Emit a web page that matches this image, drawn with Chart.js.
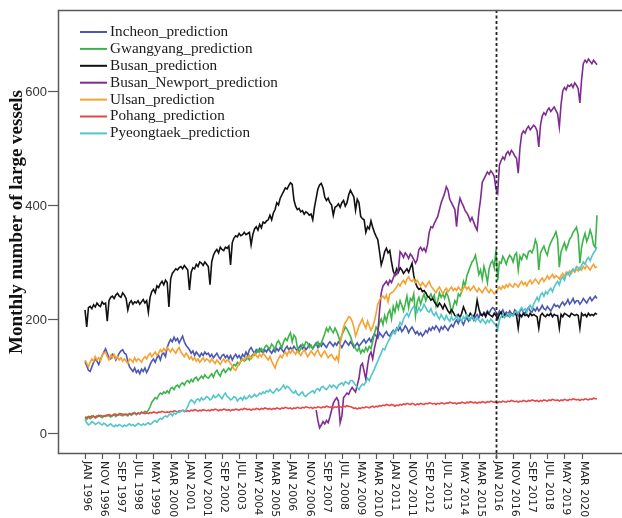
<!DOCTYPE html>
<html>
<head>
<meta charset="utf-8">
<script src="https://cdn.jsdelivr.net/npm/chart.js@4.4.1/dist/chart.umd.min.js"></script>
<style>
  html, body { margin: 0; padding: 0; background: #fff; }
  #wrap { width: 622px; height: 518px; position: relative; }
</style>
</head>
<body>
<div id="wrap"><canvas id="c" width="622" height="518"></canvas></div>
<script>
// Monthly series, JAN 1996 (index 0) to DEC 2020 (index 299)
const tickLabels = [
  'JAN 1996','NOV 1996','SEP 1997','JUL 1998','MAY 1999','MAR 2000','JAN 2001','NOV 2001',
  'SEP 2002','JUL 2003','MAY 2004','MAR 2005','JAN 2006','NOV 2006','SEP 2007','JUL 2008',
  'MAY 2009','MAR 2010','JAN 2011','NOV 2011','SEP 2012','JUL 2013','MAY 2014','MAR 2015',
  'JAN 2016','NOV 2016','SEP 2017','JUL 2018','MAY 2019','MAR 2020'
];
const tickStep = 10;          // months between x ticks
const yTicks = [0, 200, 400, 600];
const forecastStart = 240;    // JAN 2016
const yTitle = 'Monthly number of large vessels';

const seriesNames = ['Incheon_prediction','Gwangyang_prediction','Busan_prediction',
  'Busan_Newport_prediction','Ulsan_prediction','Pohang_prediction','Pyeongtaek_prediction'];
const seriesColors = ['#4a58b4','#3cb44a','#111111','#7e2c92','#f4a232','#e8474a','#52c6c9'];

const incheon = [
  125,118,110,108,116,124,130,126,120,128,136,142,
  148,140,132,130,138,136,128,134,140,144,146,140,
  138,126,116,112,108,114,106,110,104,112,108,114,
  106,112,120,126,130,124,132,136,128,138,140,134,
  150,158,164,160,168,162,166,158,164,170,160,154,
  150,146,140,144,136,142,138,134,140,136,142,138,
  140,134,138,132,136,140,134,130,136,138,132,136,
  130,136,128,134,138,132,136,130,138,134,142,136,
  146,150,144,140,146,142,148,144,140,146,142,148,
  144,140,146,142,148,144,150,146,142,148,152,146,
  150,146,152,148,144,150,154,148,152,146,150,156,
  152,148,154,158,150,156,152,158,154,150,156,160,
  156,152,158,154,160,156,150,156,162,158,154,160,
  156,150,154,158,152,156,160,164,158,162,166,160,
  168,174,170,166,176,172,168,174,178,172,170,176,
  180,176,184,180,186,178,182,188,184,176,182,186,
  180,174,178,172,176,170,174,180,176,184,180,186,
  182,188,184,178,186,182,188,184,180,186,190,186,
  194,198,192,200,196,190,198,202,196,200,204,198,
  204,208,202,210,206,212,208,214,210,216,220,218,
  212,206,214,210,216,208,212,206,214,210,208,216,
  212,206,214,218,212,210,216,220,214,212,218,214,
  220,214,218,224,218,216,222,218,214,220,226,222,
  224,220,226,230,224,228,234,226,230,236,228,232,
  232,226,230,236,232,228,234,238,232,236,240,236
];

const gwangyang = [
  26,24,28,25,27,30,26,28,31,29,27,30,
  29,32,30,28,31,33,29,32,34,31,30,33,
  32,30,34,31,33,36,32,35,33,37,35,38,
  36,40,46,54,58,62,60,66,70,68,72,70,
  74,70,78,80,76,82,84,80,86,88,84,90,
  92,88,94,90,96,98,92,96,100,96,102,98,
  96,100,104,98,106,110,104,100,108,112,106,110,
  114,110,116,120,118,124,120,126,130,126,128,132,
  128,134,138,136,140,146,142,148,144,150,154,150,
  148,156,152,146,158,162,156,150,160,166,162,170,
  176,160,172,168,150,142,148,156,152,160,158,150,
  154,148,152,156,160,152,158,166,174,184,178,186,
  180,176,184,178,170,160,172,178,186,182,176,170,
  160,154,148,144,150,140,146,142,150,144,152,148,
  160,174,186,180,194,200,190,206,196,210,216,200,
  222,212,228,218,232,224,214,226,240,220,236,232,
  244,206,230,238,226,236,244,232,240,238,244,236,
  242,222,232,246,238,244,236,246,240,228,210,222,
  232,226,244,240,248,266,258,276,284,292,300,304,
  312,296,278,286,270,292,280,264,288,298,302,290,
  322,268,300,298,310,304,296,306,312,308,300,312,
  316,286,310,304,314,312,306,318,320,316,324,339,
  330,286,316,322,328,318,312,326,334,340,346,353,
  340,291,318,326,334,322,330,340,344,352,356,361,
  348,298,326,340,350,336,344,356,346,330,326,382
];

const busan = [
  216,186,220,222,218,225,221,228,224,222,230,226,
  228,196,232,238,240,236,242,245,240,238,246,242,
  236,216,228,232,226,230,228,232,226,230,234,228,
  232,212,238,248,252,246,258,255,262,266,260,268,
  264,221,270,280,284,288,286,290,292,288,294,290,
  286,251,282,290,288,296,292,300,298,294,300,296,
  292,260,300,312,318,322,316,326,322,320,326,324,
  328,295,334,342,346,344,350,346,348,352,348,350,
  352,330,348,358,362,356,366,360,370,368,372,374,
  382,374,386,392,404,400,412,418,424,430,428,434,
  439,436,409,398,392,394,388,390,384,388,386,382,
  384,374,396,412,428,435,438,430,414,408,412,404,
  400,382,396,398,402,396,404,408,398,404,418,426,
  420,414,391,410,404,380,376,374,352,362,358,372,
  361,352,345,339,318,295,305,318,324,316,320,300,
  284,277,288,282,290,286,280,284,288,282,290,298,
  276,263,256,252,254,248,250,246,240,238,233,236,
  230,226,222,228,224,218,226,220,214,210,216,212,
  206,204,208,202,210,221,214,206,204,210,206,204,
  212,233,218,208,206,210,204,212,208,206,204,210,
  206,200,208,212,204,208,206,210,204,208,206,210,
  206,184,208,204,210,206,208,204,210,206,208,206,
  204,184,206,210,206,204,208,206,210,204,208,206,
  206,184,208,204,210,208,206,204,210,208,206,208,
  206,184,210,206,208,204,210,206,208,206,210,208
];

// Busan Newport begins in APR 2007 (index 135)
const busanNewportStart = 135;
const busanNewport = [
  40,22,9,14,20,16,22,18,28,
  40,52,58,62,56,18,30,62,66,70,68,75,
  80,76,72,84,96,118,122,108,94,118,136,142,
  130,148,162,176,214,246,258,262,266,260,268,264,
  272,280,278,286,318,314,308,316,312,306,314,310,
  304,298,304,322,326,320,324,318,330,352,362,360,
  368,374,380,392,404,412,420,432,426,410,404,398,
  392,362,396,412,404,398,390,386,380,372,378,370,
  362,356,388,410,440,446,452,458,454,460,456,450,
  428,421,470,478,484,480,490,494,488,496,492,486,
  482,456,500,524,530,526,534,538,532,536,540,537,
  530,502,540,556,562,558,566,570,564,568,572,566,
  560,537,576,600,606,602,610,608,612,606,614,610,
  604,579,620,648,654,650,656,652,648,654,650,646
];

const ulsan = [
  128,122,116,124,130,126,134,128,132,126,136,140,
  142,134,128,136,132,138,130,134,128,132,126,130,
  126,122,130,128,124,132,126,130,128,124,130,134,
  130,136,140,134,138,142,136,140,146,142,148,144,
  150,146,142,148,144,140,146,150,142,138,134,140,
  136,130,134,128,132,126,130,124,128,132,126,130,
  128,124,130,126,122,128,124,120,126,130,124,128,
  126,122,118,112,110,116,122,126,130,128,134,132,
  136,130,134,140,136,132,138,134,140,136,132,128,
  134,126,120,114,124,130,136,132,138,142,136,144,
  140,146,142,138,144,140,136,142,146,140,134,138,
  144,140,136,142,146,138,134,140,144,138,132,136,
  138,132,128,134,126,156,172,186,194,198,204,202,
  196,186,170,178,188,194,200,190,184,196,188,180,
  186,196,210,226,233,238,240,236,242,230,244,246,
  248,252,256,262,258,264,268,262,270,274,268,266,
  270,264,268,262,258,264,260,256,262,266,258,254,
  250,246,252,256,250,244,250,254,248,252,256,250,
  254,250,256,252,248,254,258,252,256,250,254,258,
  252,248,254,250,246,252,256,250,246,252,248,244,
  248,252,256,252,258,254,260,256,262,258,256,262,
  260,256,262,266,260,264,258,264,268,262,266,270,
  266,262,268,272,266,270,276,270,274,278,272,276,
  274,270,276,280,274,282,278,284,280,286,282,288,
  284,290,286,292,288,294,290,286,292,296,290,292
];

const pohang = [
  28,27,29,28,30,29,28,30,29,31,30,29,
  31,30,32,31,30,32,33,31,32,34,33,32,
  33,32,34,33,35,34,33,35,34,36,35,34,
  35,34,36,35,37,36,35,37,36,38,37,36,
  37,36,38,37,39,38,37,39,38,40,39,38,
  39,38,40,39,41,40,38,40,39,41,40,39,
  40,39,41,40,42,41,39,41,40,42,41,40,
  41,39,41,40,42,41,40,42,41,43,42,41,
  42,40,42,41,43,42,41,43,42,44,43,42,
  43,41,43,42,44,43,42,44,43,45,44,43,
  44,42,44,43,45,44,43,45,44,46,45,44,
  45,43,45,44,46,45,44,46,45,47,46,45,
  46,44,46,45,47,46,45,47,46,48,47,46,
  45,43,44,42,44,43,45,44,46,45,44,46,
  47,45,47,46,48,47,49,48,50,49,48,50,
  49,47,49,48,50,49,51,50,52,51,50,52,
  51,49,51,50,52,51,50,52,51,53,52,51,
  52,50,52,51,53,52,51,53,52,54,53,52,
  53,51,53,52,54,53,52,54,53,55,54,53,
  54,52,54,53,55,54,53,55,54,56,55,54,
  55,53,55,54,56,55,54,56,55,57,56,55,
  56,54,56,55,57,56,55,57,56,58,57,56,
  57,55,57,56,58,57,56,58,57,59,58,57,
  58,56,58,57,59,58,57,59,58,60,59,58,
  59,57,59,58,60,59,58,60,59,61,60,60
];

const pyeongtaek = [
  24,18,14,16,20,18,15,17,19,16,14,17,
  15,12,14,16,13,11,14,12,15,13,11,14,
  12,14,16,13,15,12,14,17,15,13,16,14,
  16,18,15,17,20,22,19,23,26,24,28,30,
  28,32,34,30,35,33,37,36,38,40,37,41,
  46,54,58,56,52,58,60,56,62,58,60,64,
  62,58,60,66,62,64,68,64,60,66,70,64,
  62,58,60,64,62,56,60,62,58,64,60,62,
  66,62,64,68,64,66,70,68,72,70,74,72,
  76,72,70,74,78,74,76,80,84,78,82,80,
  76,72,70,74,68,66,70,72,66,64,68,70,
  72,74,70,76,78,74,80,82,78,76,80,84,
  80,84,82,78,84,86,88,84,90,88,86,92,
  92,88,84,80,76,82,86,84,90,96,92,100,
  106,112,120,126,134,140,148,146,154,160,166,172,
  178,174,182,186,194,190,200,206,210,204,212,218,
  222,216,212,220,214,218,226,220,214,212,218,210,
  206,212,204,200,208,202,198,206,200,196,204,198,
  200,206,198,202,196,204,200,208,202,198,206,200,
  196,202,198,194,200,196,192,198,194,200,196,192,
  190,181,198,204,208,202,206,210,204,208,206,212,
  214,210,216,220,214,218,212,220,224,218,226,232,
  238,232,242,246,240,248,244,250,254,248,256,262,
  266,260,270,274,268,278,282,276,284,288,284,292,
  290,286,294,300,296,304,308,302,310,316,320,326
];

const seriesValues = [incheon, gwangyang, busan, busanNewport, ulsan, pohang, pyeongtaek];
const seriesStarts = [0, 0, 0, busanNewportStart, 0, 0, 0];

const toPoints = (arr, start) => arr.map((v, i) => ({ x: start + i, y: v }));

const datasets = seriesNames.map((name, k) => ({
  label: name,
  data: toPoints(seriesValues[k], seriesStarts[k]),
  borderColor: seriesColors[k],
  backgroundColor: seriesColors[k],
  borderWidth: 1.6,
  pointRadius: 0,
  tension: 0,
  fill: false,
  order: seriesNames.length - k   // later series drawn on top
}));

const AXIS_COLOR = '#5a5a5a';

// Forecast divider (dotted vertical line at JAN 2016)
const dividerPlugin = {
  id: 'divider',
  afterDatasetsDraw(chart) {
    const { ctx, chartArea, scales } = chart;
    const x = Math.round(scales.x.getPixelForValue(forecastStart)) + 0.5;
    ctx.save();
    ctx.strokeStyle = '#222';
    ctx.lineWidth = 1.8;
    ctx.setLineDash([3, 2.5]);
    ctx.beginPath();
    ctx.moveTo(x, chartArea.top);
    ctx.lineTo(x, chartArea.bottom + 6);
    ctx.stroke();
    ctx.restore();
  }
};

// Frame, ticks, tick labels, axis title and legend
const framePlugin = {
  id: 'frame',
  afterDraw(chart) {
    const { ctx, chartArea, scales } = chart;
    const { left, top, right, bottom } = chartArea;
    ctx.save();
    ctx.strokeStyle = AXIS_COLOR;
    ctx.lineWidth = 1.5;
    ctx.setLineDash([]);
    ctx.beginPath();
    ctx.moveTo(right, top + 0.5);
    ctx.lineTo(left + 0.5, top + 0.5);
    ctx.lineTo(left + 0.5, bottom + 0.5);
    ctx.lineTo(right, bottom + 0.5);
    ctx.stroke();

    // y ticks
    ctx.lineWidth = 1.2;
    ctx.fillStyle = '#333';
    ctx.font = '13px "Liberation Sans", Arial, sans-serif';
    ctx.textAlign = 'right';
    ctx.textBaseline = 'middle';
    yTicks.forEach(v => {
      const y = Math.round(scales.y.getPixelForValue(v)) + 0.5;
      ctx.beginPath();
      ctx.moveTo(left - 10, y);
      ctx.lineTo(left, y);
      ctx.stroke();
      ctx.fillText(String(v), left - 11, y + 1);
    });

    // x ticks with labels reading top-to-bottom
    ctx.font = '11px "DejaVu Sans", Verdana, sans-serif';
    ctx.fillStyle = '#222';
    ctx.textAlign = 'left';
    ctx.textBaseline = 'middle';
    tickLabels.forEach((lab, i) => {
      const x = Math.round(scales.x.getPixelForValue(i * tickStep)) + 0.5;
      ctx.beginPath();
      ctx.moveTo(x, bottom);
      ctx.lineTo(x, bottom + 6);
      ctx.stroke();
      ctx.save();
      ctx.translate(x + 1.5, bottom + 8);
      ctx.rotate(Math.PI / 2);
      ctx.fillText(lab, 0, 0);
      ctx.restore();
    });

    // y axis title
    ctx.save();
    ctx.translate(17, 222);
    ctx.rotate(-Math.PI / 2);
    ctx.font = 'bold 19px "Liberation Serif", "Times New Roman", serif';
    ctx.fillStyle = '#111';
    ctx.textAlign = 'center';
    ctx.textBaseline = 'middle';
    ctx.fillText(yTitle, 0, 0);
    ctx.restore();

    // legend
    ctx.font = '15.2px "Liberation Serif", "Times New Roman", serif';
    ctx.textAlign = 'left';
    ctx.textBaseline = 'middle';
    seriesNames.forEach((name, k) => {
      const y = 32 + k * 16.9;
      ctx.strokeStyle = seriesColors[k];
      ctx.lineWidth = 2;
      ctx.beginPath();
      ctx.moveTo(80, y);
      ctx.lineTo(107, y);
      ctx.stroke();
      ctx.fillStyle = '#1a1a1a';
      ctx.fillText(name, 110, y);
    });
    ctx.restore();
  }
};

new Chart(document.getElementById('c'), {
  type: 'line',
  data: { datasets },
  options: {
    responsive: false,
    animation: false,
    devicePixelRatio: 1,
    layout: { padding: { left: 58, top: 10, right: 0, bottom: 65 } },
    plugins: { legend: { display: false }, tooltip: { enabled: false } },
    scales: {
      x: { type: 'linear', display: false, min: -15.77, max: 313.6 },
      y: { type: 'linear', display: false, min: -35.1, max: 742.1 }
    }
  },
  plugins: [dividerPlugin, framePlugin]
});
</script>
</body>
</html>
